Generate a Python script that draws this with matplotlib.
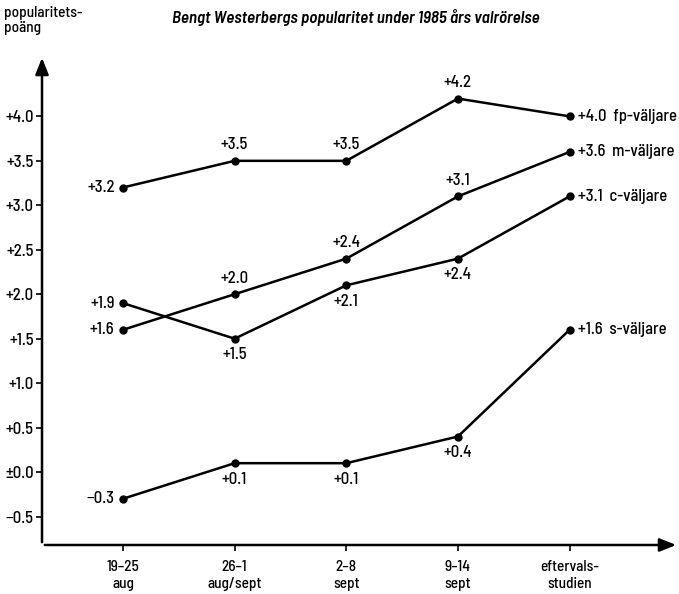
import matplotlib
matplotlib.use("Agg")
import matplotlib.pyplot as plt

# data
periods = ["19–25\naug", "26–1\naug/sept", "2–8\nsept", "9–14\nsept", "eftervals-\nstudien"]
fp = [3.2, 3.5, 3.5, 4.2, 4.0]
m = [1.6, 2.0, 2.4, 3.1, 3.6]
c = [1.9, 1.5, 2.1, 2.4, 3.1]
s = [-0.3, 0.1, 0.1, 0.4, 1.6]
series_names = ["fp-väljare", "m-väljare", "c-väljare", "s-väljare"]
yticks = [-0.5, 0.0, 0.5, 1.0, 1.5, 2.0, 2.5, 3.0, 3.5, 4.0]

plt.rcParams['font.family'] = ['Barlow Semi Condensed', 'DejaVu Sans']
plt.rcParams['font.weight'] = 500
FS = 12

# where each value label sits relative to its point
placement = [
    ["left", "above", "above", "above", "end"],
    ["left", "above", "above", "above", "end"],
    ["left", "below", "below", "below", "end"],
    ["left", "below", "below", "below", "end"],
]


def fmt(v):
    if abs(v) < 1e-9:
        return "±0.0"
    return ("+%.1f" % v) if v > 0 else ("−%.1f" % abs(v))


fig = plt.figure(figsize=(6.79, 5.94), dpi=100)
ax = fig.add_axes([42 / 679, 49 / 594, 637 / 679, 490 / 594])
ax.set_xlim(-0.725, 4.98)
ax.set_ylim(-0.82, 4.69)

xs = list(range(len(periods)))
for vals, name, place in zip([fp, m, c, s], series_names, placement):
    ax.plot(xs, vals, color="black", lw=1.8, marker="o", ms=5, clip_on=False)
    for x, v, p in zip(xs, vals, place):
        if p == "left":
            ax.annotate(fmt(v), (x, v), xytext=(-6, 0), textcoords="offset points",
                        ha="right", va="center", fontsize=FS)
        elif p == "above":
            ax.annotate(fmt(v), (x, v), xytext=(0, 6), textcoords="offset points",
                        ha="center", va="bottom", fontsize=FS)
        elif p == "below":
            ax.annotate(fmt(v), (x, v), xytext=(0, -6), textcoords="offset points",
                        ha="center", va="top", fontsize=FS)
        else:
            ax.annotate(fmt(v) + "  " + name, (x, v), xytext=(6, 0), textcoords="offset points",
                        ha="left", va="center", fontsize=FS)

# axes with arrow heads
for sp in ax.spines.values():
    sp.set_visible(False)
ax.annotate("", xy=(1.0, 0), xycoords="axes fraction", xytext=(0, 0),
            arrowprops=dict(arrowstyle="-|>,head_length=1.0,head_width=0.4", color="black", lw=1.8))
ax.annotate("", xy=(0, 1.0), xycoords="axes fraction", xytext=(0, 0),
            arrowprops=dict(arrowstyle="-|>,head_length=1.0,head_width=0.4", color="black", lw=1.8))

ax.set_xticks(xs)
ax.set_xticklabels(periods, fontsize=FS - 1, linespacing=1.25)
ax.set_yticks(yticks)
ax.set_yticklabels([fmt(v) for v in yticks], fontsize=FS)
ax.tick_params(axis="x", direction="out", length=4, width=1.2, pad=7)
ax.tick_params(axis="y", direction="out", length=4, width=1.2, pad=2)

fig.text(356 / 679, 1 - 18 / 594, "Bengt Westerbergs popularitet under 1985 års valrörelse",
         ha="center", va="center", fontsize=12.2, style="italic", fontweight=600)
fig.text(4 / 679, 1 - 6 / 594, "popularitets-\npoäng", ha="left", va="top", fontsize=FS - 1,
         linespacing=1.1)

fig.savefig("out.png", dpi=100)
